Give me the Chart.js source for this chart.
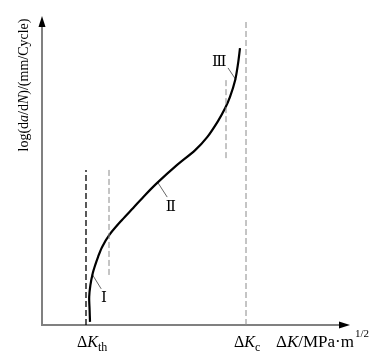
<!DOCTYPE html>
<html><head><meta charset="utf-8">
<script src="https://cdn.jsdelivr.net/npm/chart.js@4"></script>
<style>html,body{margin:0;padding:0;background:#fff}#wrap{width:388px;height:357px}</style>
</head><body><div id="wrap"><canvas id="c" width="388" height="357"></canvas></div>
<script>
// Curve: da/dN vs ΔK (arbitrary log units)
const curveX = [1.20,1.19,1.18,1.21,1.27,1.33,1.40,1.50,1.68,2.00,2.28,2.58,2.88,3.35,3.83,4.13,4.40,4.58,4.70,4.83,4.90,4.95];
const curveY = [0.10,0.49,0.91,1.29,1.68,1.94,2.20,2.52,2.91,3.40,3.79,4.21,4.60,5.15,5.66,6.08,6.60,7.02,7.38,7.93,8.45,8.96];
// reference dashed lines
const thX = 1.10, thY = [0, 5.02];
const g1X = 1.675, g1Y = [1.62, 5.02];
const g2X = 4.60, g2Y = [5.40, 8.00];
const cX = 5.10, cY = [0, 9.87];
// region leaders and labels
const regionLabels = ['Ⅰ','Ⅱ','Ⅲ'];
const leaderX = [[1.25,1.48],[2.90,3.13],[4.65,4.85]];
const leaderY = [[1.65,1.17],[4.60,4.14],[8.32,7.93]];
const labelX = [1.55, 3.22, 4.43];
const labelY = [0.88, 3.81, 8.51];
const xMax = 7.7, yMax = 10;

const pts = (xs, ys) => xs.map((x,i)=>({x, y: ys[i]}));
const vline = (x, ys) => ys.map(y=>({x, y}));

const datasets = [
  {data: vline(thX, thY), borderColor:'#000', borderWidth:1.3, borderDash:[6,3]},
  {data: vline(g1X, g1Y), borderColor:'#8a8a8a', borderWidth:1, borderDash:[6,3]},
  {data: vline(g2X, g2Y), borderColor:'#8a8a8a', borderWidth:1, borderDash:[6,3]},
  {data: vline(cX, cY), borderColor:'#8a8a8a', borderWidth:1, borderDash:[6,3]},
  {data: pts(curveX, curveY), borderColor:'#000', borderWidth:2.2, tension:0.3},
];
leaderX.forEach((lx,i)=>datasets.push({data: pts(lx, leaderY[i]), borderColor:'#555', borderWidth:0.9}));
datasets.forEach(d=>{d.showLine=true; d.pointRadius=0; d.fill=false; d.clip=false; if(d.tension===undefined) d.tension=0;});

function runs(ctx, x, y, parts){
  let cx = x;
  for(const p of parts){
    ctx.font = p.font;
    ctx.fillText(p.t, cx, y + (p.dy||0));
    cx += ctx.measureText(p.t).width + (p.gap||0);
  }
}

const deco = {
  id:'deco',
  beforeDatasetsDraw(chart){
    const {ctx, scales:{x, y}} = chart;
    const x0 = x.getPixelForValue(0), y0 = y.getPixelForValue(0);
    ctx.save();
    ctx.strokeStyle = '#808080'; ctx.lineWidth = 2;
    ctx.beginPath();
    ctx.moveTo(x0, y.getPixelForValue(yMax)+6); ctx.lineTo(x0, y0); ctx.lineTo(x.getPixelForValue(xMax)-6, y0);
    ctx.stroke();
    ctx.restore();
  },
  afterDraw(chart){
    const {ctx, scales:{x, y}} = chart;
    const x0 = x.getPixelForValue(0), y0 = y.getPixelForValue(0);
    const xt = x.getPixelForValue(xMax), yt = y.getPixelForValue(yMax);
    ctx.save();
    ctx.fillStyle = '#000';
    ctx.beginPath(); ctx.moveTo(x0, yt); ctx.lineTo(x0-3.5, yt+11); ctx.lineTo(x0+3.5, yt+11); ctx.closePath(); ctx.fill();
    ctx.beginPath(); ctx.moveTo(xt, y0); ctx.lineTo(xt-11, y0-3.5); ctx.lineTo(xt-11, y0+3.5); ctx.closePath(); ctx.fill();
    // region labels
    ctx.textAlign = 'center'; ctx.textBaseline = 'middle';
    ctx.font = '15px "DejaVu Serif", "Liberation Serif", serif';
    regionLabels.forEach((t,i)=>ctx.fillText(t, x.getPixelForValue(labelX[i]), y.getPixelForValue(labelY[i])));
    // axis texts
    ctx.textAlign = 'left'; ctx.textBaseline = 'alphabetic';
    const R = '16px "Liberation Serif", serif', I = 'italic 16px "Liberation Serif", serif', S = '12px "Liberation Serif", serif';
    const by = y0 + 22;
    runs(ctx, x.getPixelForValue(thX)-9, by, [{t:'Δ',font:R},{t:'K',font:I},{t:'th',font:S,dy:4}]);
    runs(ctx, x.getPixelForValue(cX)-12, by, [{t:'Δ',font:R},{t:'K',font:I},{t:'c',font:S,dy:4}]);
    const R2 = '17px "Liberation Serif", serif', I2 = 'italic 17px "Liberation Serif", serif';
    runs(ctx, 276, by, [{t:'Δ',font:R2},{t:'K',font:I2},{t:'/MPa·m',font:R2,gap:1},{t:'1/2',font:'11px "Liberation Serif", serif',dy:-10}]);
    // y title
    ctx.translate(28, 85);
    ctx.rotate(-Math.PI/2);
    const F = '14px "Liberation Serif", serif', FI = 'italic 14px "Liberation Serif", serif';
    const parts = [{t:'log(d',font:F},{t:'a',font:FI},{t:'/d',font:F},{t:'N',font:FI},{t:')/(mm/Cycle)',font:F}];
    let w = 0; parts.forEach(p=>{ctx.font=p.font; w+=ctx.measureText(p.t).width;});
    runs(ctx, -w/2, 0, parts);
    ctx.restore();
  }
};

new Chart(document.getElementById('c'), {
  type:'scatter',
  data:{datasets},
  options:{
    responsive:false, animation:false, events:[],
    layout:{padding:{left:42, right:38, top:16, bottom:32}},
    plugins:{legend:{display:false}, tooltip:{enabled:false}},
    scales:{
      x:{type:'linear', min:0, max:xMax, display:false},
      y:{type:'linear', min:0, max:yMax, display:false}
    }
  },
  plugins:[deco]
});
</script></body></html>
